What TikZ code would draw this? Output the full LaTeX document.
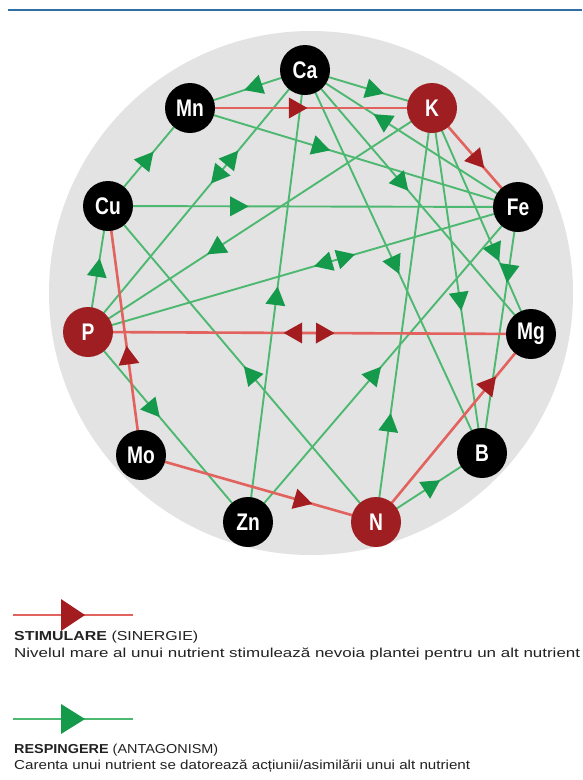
\documentclass[tikz,border=0pt]{standalone}
\usepackage{fontspec}
\usepackage{graphicx}
\setmainfont{Liberation Sans}
\newfontfamily\condfont[FakeStretch=0.8]{Liberation Sans}
\usetikzlibrary{decorations.markings}
\definecolor{glinec}{HTML}{4DB870}
\definecolor{garrowc}{HTML}{15994A}
\definecolor{rlinec}{HTML}{E2625E}
\definecolor{rarrowc}{HTML}{A31D20}
\definecolor{rnodec}{HTML}{9E1E22}
\definecolor{bgrayc}{HTML}{E3E3E3}
\definecolor{topbluec}{HTML}{2F6FA6}
\definecolor{txtc}{HTML}{222222}
\pgfdeclarelayer{bgg}
\pgfdeclarelayer{bg}
\pgfsetlayers{bgg,bg,main}
\tikzset{
  gl/.style={draw=glinec, line width=1.9pt},
  rl/.style={draw=rlinec, line width=2.6pt},
  ga/.style={postaction={decorate,decoration={markings,mark=at position #1 with {\fill[garrowc] (9.5pt,0pt) -- (-9pt,10pt) -- (-9pt,-10pt) -- cycle;}}}},
  gb/.style={postaction={decorate,decoration={markings,mark=at position #1 with {\fill[garrowc] (-9.5pt,0pt) -- (9pt,10pt) -- (9pt,-10pt) -- cycle;}}}},
  ra/.style={postaction={decorate,decoration={markings,mark=at position #1 with {\fill[rarrowc] (9.5pt,0pt) -- (-9pt,10.5pt) -- (-9pt,-10.5pt) -- cycle;}}}},
  rb/.style={postaction={decorate,decoration={markings,mark=at position #1 with {\fill[rarrowc] (-9.5pt,0pt) -- (9pt,10.5pt) -- (9pt,-10.5pt) -- cycle;}}}},
  nut/.style={circle, minimum size=50pt, inner sep=0pt, text=white, font=\condfont\bfseries\fontsize{24}{24}\selectfont},
  blk/.style={nut, fill=black},
  rnut/.style={nut, fill=rnodec},
  legtxt/.style={anchor=base west, inner sep=0pt, text=txtc},
}
\begin{document}
\begin{tikzpicture}[x=1pt,y=-1pt]
\useasboundingbox (0,0) rectangle (582,780);
\begin{pgfonlayer}{bgg}
\fill[white] (0,0) rectangle (582,780);
\fill[bgrayc] (311,293) circle[radius=262pt];
\draw[topbluec, line width=2.2pt] (8,10) -- (582,10);
\end{pgfonlayer}
% nodes
\node[blk]  (Ca) at (305,70)  {Ca};
\node[blk]  (Mn) at (190,108) {Mn};
\node[rnut] (K)  at (432,108) {K};
\node[blk]  (Cu) at (108,206) {Cu};
\node[blk]  (Fe) at (518,207) {Fe};
\node[rnut] (P)  at (88,332)  {P};
\node[blk]  (Mg) at (531,334) {Mg};
\node[blk]  (Mo) at (141,455) {Mo};
\node[blk]  (B)  at (482,453) {B};
\node[blk]  (Zn) at (248,522) {Zn};
\node[rnut] (N)  at (376,522) {N};
\begin{pgfonlayer}{bg}
% green (antagonism)
\draw[gl, ga=0.45] (Ca.center) -- (Mn.center);
\draw[gl, ga=0.48] (Cu.center) -- (Mn.center);
\draw[gl, gb=0.336, ga=0.405] (Ca.center) -- (P.center);
\draw[gl, ga=0.32] (Cu.center) -- (Fe.center);
\draw[gl, ga=0.40] (Mn.center) -- (Fe.center);
\draw[gl, ga=0.55] (Ca.center) -- (K.center);
\draw[gl, ga=0.64] (Fe.center) -- (Ca.center);
\draw[gl, ga=0.43] (Ca.center) -- (Mg.center);
\draw[gl, ga=0.51] (Ca.center) -- (B.center);
\draw[gl, ga=0.64] (K.center) -- (Mg.center);
\draw[gl, ga=0.27] (Fe.center) -- (B.center);
\draw[gl, ga=0.56] (K.center) -- (B.center);
\draw[gl, ga=0.63] (K.center) -- (P.center);
\draw[gl, gb=0.547, ga=0.60] (P.center) -- (Fe.center);
\draw[gl, ga=0.51] (P.center) -- (Cu.center);
\draw[gl, ga=0.41] (P.center) -- (Zn.center);
\draw[gl, ga=0.47] (N.center) -- (Cu.center);
\draw[gl, ga=0.50] (Zn.center) -- (Ca.center);
\draw[gl, ga=0.47] (Zn.center) -- (Fe.center);
\draw[gl, ga=0.24] (N.center) -- (K.center);
\draw[gl, ga=0.53] (N.center) -- (B.center);
% red (synergy)
\draw[rl, ra=0.446] (Mn.center) -- (K.center);
\draw[rl, ra=0.535] (K.center) -- (Fe.center);
\draw[rl, ra=0.40] (Mo.center) -- (Cu.center);
\draw[rl, rb=0.463, ra=0.535] (P.center) -- (Mg.center);
\draw[rl, ra=0.69] (Mo.center) -- (N.center);
\draw[rl, ra=0.735] (N.center) -- (Mg.center);
\end{pgfonlayer}
% legend
\coordinate (r1) at (13,615);
\coordinate (r2) at (133,615);
\draw[rl] (r1) -- (r2);
\fill[rarrowc] (85,615) -- (61,599) -- (61,631) -- cycle;
\node[legtxt] (st) at (14,640) {\resizebox{184pt}{\height}{\fontsize{13}{15}\selectfont\textbf{STIMULARE} (SINERGIE)}};
\node[legtxt] (sd) at (14,657) {\resizebox{566pt}{\height}{\fontsize{13}{15}\selectfont Nivelul mare al unui nutrient stimulează nevoia plantei pentru un alt nutrient}};
\coordinate (g1) at (13,719);
\coordinate (g2) at (133,719);
\draw[gl] (g1) -- (g2);
\fill[garrowc] (85,719) -- (61,704) -- (61,734) -- cycle;
\node[legtxt] (rs) at (14,753) {\resizebox{204pt}{\height}{\fontsize{13}{15}\selectfont\textbf{RESPINGERE} (ANTAGONISM)}};
\node[legtxt] (rd) at (14,769) {\resizebox{456pt}{\height}{\fontsize{13}{15}\selectfont Carenta unui nutrient se datorează acțiunii/asimilării unui alt nutrient}};
\end{tikzpicture}
\end{document}
